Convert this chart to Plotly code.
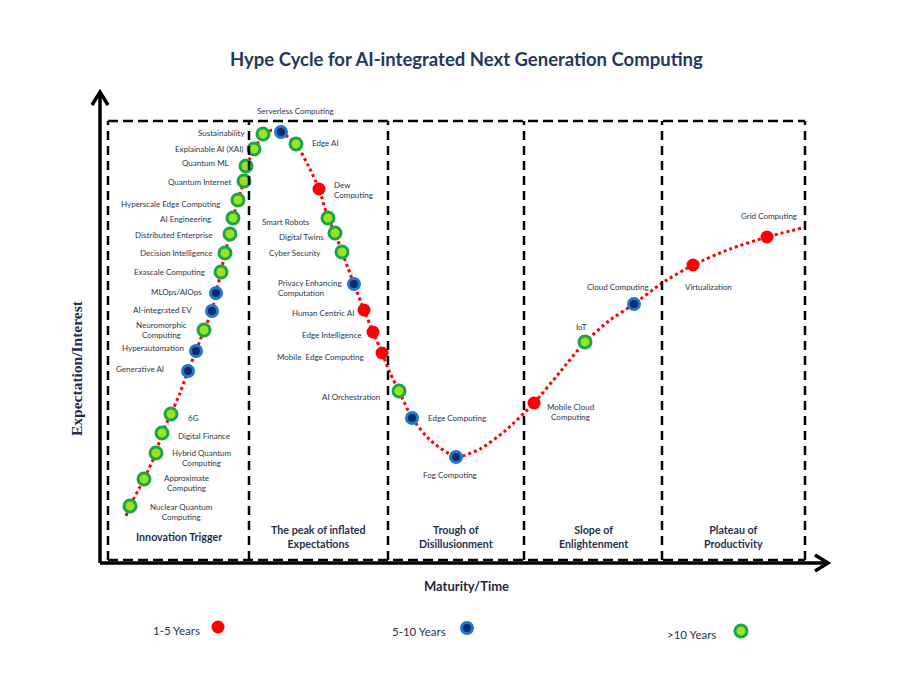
import plotly.graph_objects as go

# ---------------- data ----------------
# maturity (x) and expectation (y) in chart units; horizon per item
names = [
    "Nuclear Quantum Computing", "Approximate Computing", "Hybrid Quantum Computing",
    "Digital Finance", "6G", "Generative AI", "Hyperautomation", "Neuromorphic Computing",
    "AI-integrated EV", "MLOps/AIOps", "Exascale Computing", "Decision Intelligence",
    "Distributed Enterprise", "AI Engineering", "Hyperscale Edge Computing",
    "Quantum Internet", "Quantum ML", "Explainable AI (XAI)", "Sustainability",
    "Serverless Computing", "Edge AI", "Dew Computing", "Smart Robots", "Digital Twins",
    "Cyber Security", "Privacy Enhancing Computation", "Human Centric AI",
    "Edge Intelligence", "Mobile  Edge Computing", "AI Orchestration", "Edge Computing",
    "Fog Computing", "Mobile Cloud Computing", "IoT", "Cloud Computing",
    "Virtualization", "Grid Computing",
]
maturity = [30, 44, 56, 62, 71, 88, 96, 104, 112, 116, 121, 125, 130, 133, 138, 144,
            146, 154, 163, 181, 196, 219, 228, 235, 242, 254, 264, 273, 282, 299, 312,
            356, 434, 485, 534, 593, 667]
expectation = [57, 84, 110, 130, 149, 192, 212, 233, 252, 270, 291, 310, 329, 345, 363,
               382, 397, 414, 429, 431, 419, 374, 345, 330, 311, 279, 253, 231, 210, 172,
               145, 106, 160, 221, 259, 298, 326]
horizon = [">10", ">10", ">10", ">10", ">10", "5-10", "5-10", ">10", "5-10", "5-10",
           ">10", ">10", ">10", ">10", ">10", ">10", ">10", ">10", ">10", "5-10", ">10",
           "1-5", ">10", ">10", ">10", "5-10", "1-5", "1-5", "1-5", ">10", "5-10",
           "5-10", "1-5", ">10", "5-10", "1-5", "1-5"]

curve_maturity = [26, 30, 44, 56, 62, 71, 80, 88, 96, 104, 112, 116, 121, 125, 130, 133,
                  138, 144, 147, 154, 163, 172, 181, 196, 208, 219, 228, 235, 242, 248,
                  254, 264, 273, 282, 290, 299, 312, 330, 356, 380, 405, 434, 460, 485,
                  510, 534, 562, 593, 630, 667, 702]
curve_expectation = [47, 57, 84, 110, 130, 149, 170, 192, 212, 233, 252, 270, 291, 310,
                     329, 345, 363, 382, 397, 414, 427, 433, 431, 419, 398, 374, 345, 330,
                     311, 295, 279, 253, 231, 210, 190, 172, 145, 123, 106, 114, 132, 160,
                     191, 221, 243, 259, 280, 298, 314, 326, 335]

phases = ["Innovation Trigger", "The peak of inflated<br>Expectations",
          "Trough of<br>Disillusionment", "Slope of<br>Enlightenment",
          "Plateau of<br>Productivity"]
phase_bounds = [8, 149, 288, 424, 562, 705]
legend_labels = ["1-5 Years", "5-10 Years", ">10 Years"]

# ---------------- styles / label placement ----------------
STYLE = {
    "1-5": dict(size=13, color="#ff0000", line=dict(width=0, color="#ff0000")),
    "5-10": dict(size=11, color="#0a2a6b", line=dict(width=3, color="#1f78d1")),
    ">10": dict(size=12, color="#9be31e", line=dict(width=3, color="#19a54b")),
}
# (dx, dy, xanchor, align) offsets from marker centre, in chart units
LABEL_POS = [
    (51, -6, "center", "center"), (42, -4, "center", "center"), (45, -5, "center", "center"),
    (14, -3, "left", "left"), (15, -4, "left", "left"), (-22, 2, "right", "right"),
    (-10, 3, "right", "right"), (-43, 0, "center", "center"), (-18, 1, "right", "right"),
    (-12, 1, "right", "right"), (-14, 0, "right", "right"), (-10, 0, "right", "right"),
    (-15, -1, "right", "right"), (-20, -1, "right", "right"), (-16, -4, "right", "right"),
    (-11, -1, "right", "right"), (-15, 3, "right", "right"), (-8, 0, "right", "right"),
    (-16, 1, "right", "right"), (14, 21, "center", "center"), (14, 1, "left", "left"),
    (13, -1, "left", "left"), (-16, -4, "right", "right"), (-9, -4, "right", "right"),
    (-19, -1, "right", "right"), (-78, -4, "left", "left"), (-8, -3, "right", "right"),
    (-10, -3, "right", "right"), (-16, -4, "right", "right"), (-17, -6, "right", "right"),
    (14, 0, "left", "left"), (-6, -18, "center", "center"), (36, -9, "center", "center"),
    (-4, 15, "center", "center"), (-16, 17, "center", "center"), (-10, -22, "left", "left"),
    (2, 21, "center", "center"),
]
LABEL_TEXT = {
    "Nuclear Quantum Computing": "Nuclear Quantum<br>Computing",
    "Approximate Computing": "Approximate<br>Computing",
    "Hybrid Quantum Computing": "Hybrid Quantum<br>Computing",
    "Neuromorphic Computing": "Neuromorphic<br>Computing",
    "Dew Computing": "Dew<br>Computing",
    "Privacy Enhancing Computation": "Privacy Enhancing<br>Computation",
    "Mobile Cloud Computing": "Mobile Cloud<br>Computing",
}
TXT = "#2a3550"
NAVY = "#1f3050"
FONT = "Lato"

fig = go.Figure()

# hype curve
fig.add_trace(go.Scatter(
    x=curve_maturity, y=curve_expectation, mode="lines",
    line=dict(color="#ff0000", width=3, dash="3px,3px", shape="spline", smoothing=0.6),
    hoverinfo="skip", showlegend=False))

# technology markers grouped by horizon
for key in ["1-5", "5-10", ">10"]:
    idx = [i for i, h in enumerate(horizon) if h == key]
    fig.add_trace(go.Scatter(
        x=[maturity[i] for i in idx], y=[expectation[i] for i in idx],
        mode="markers", marker=STYLE[key], text=[names[i] for i in idx],
        hoverinfo="text", showlegend=False))

# labels
for i, n in enumerate(names):
    dx, dy, xa, al = LABEL_POS[i]
    fig.add_annotation(x=maturity[i] + dx, y=expectation[i] + dy, xref="x", yref="y",
                       text=LABEL_TEXT.get(n, n), showarrow=False, xanchor=xa, align=al,
                       yanchor="middle", font=dict(family=FONT, size=8, color=TXT))

# phase boxes (dashed)
DASH = dict(color="black", width=2.5, dash="10px,5px")
fig.add_shape(type="line", x0=phase_bounds[0], x1=phase_bounds[-1], y0=442, y1=442,
              xref="x", yref="y", line=DASH)
fig.add_shape(type="line", x0=phase_bounds[0], x1=phase_bounds[-1], y0=3, y1=3,
              xref="x", yref="y", line=DASH)
for b in phase_bounds:
    fig.add_shape(type="line", x0=b, x1=b, y0=3, y1=442, xref="x", yref="y",
                  line=dict(color="black", width=2.5, dash="9px,6px"))
for i, p in enumerate(phases):
    cx = (phase_bounds[i] + phase_bounds[i + 1]) / 2
    fig.add_annotation(x=cx, y=27, xref="x", yref="y", text="<b>" + p + "</b>",
                       showarrow=False, font=dict(family=FONT, size=10.7, color=NAVY),
                       yanchor="middle")

# axes arrows
AX = dict(color="black", width=3.5)
fig.add_shape(type="line", x0=0, x1=0, y0=0, y1=470, xref="x", yref="y", line=AX)
fig.add_shape(type="line", x0=0, x1=728, y0=0, y1=0, xref="x", yref="y", line=AX)
fig.add_shape(type="path", path="M -8,458 L 0,471 L 8,458", xref="x", yref="y", line=AX)
fig.add_shape(type="path", path="M 715,8 L 728,0 L 715,-8", xref="x", yref="y", line=AX)

# axis titles
fig.add_annotation(x=-24, y=195, xref="x", yref="y", text="<b>Expectation/Interest</b>",
                   textangle=-90, showarrow=False,
                   font=dict(family="Liberation Serif", size=15.5, color="#1f2d50"))
fig.add_annotation(x=366, y=-23, xref="x", yref="y", text="<b>Maturity/Time</b>",
                   showarrow=False, font=dict(family=FONT, size=13, color="#1f2a40"))

# title
fig.add_annotation(x=366, y=504, xref="x", yref="y",
                   text="<b>Hype Cycle for AI-integrated Next Generation Computing</b>",
                   showarrow=False, font=dict(family=FONT, size=18.5, color="#1f3864"))

# legend (manual)
leg_x = [118, 367, 641]
leg_y = [-64, -65, -68]
leg_gap = [16, 19, 23]
for i, lab in enumerate(legend_labels):
    key = ["1-5", "5-10", ">10"][i]
    fig.add_annotation(x=leg_x[i] - leg_gap[i], y=leg_y[i] - 3, xref="x", yref="y",
                       text=lab, showarrow=False, xanchor="right",
                       font=dict(family=FONT, size=11.5, color=TXT))
    fig.add_trace(go.Scatter(x=[leg_x[i]], y=[leg_y[i]], mode="markers",
                             marker=STYLE[key], hoverinfo="skip", showlegend=False))

# page body has an 8px margin: size the figure so it sits exactly in the window
fig.update_xaxes(range=[-92, 805], visible=False, fixedrange=True)
fig.update_yaxes(range=[-114, 555], visible=False, fixedrange=True)
fig.update_layout(width=897, height=669, margin=dict(l=0, r=0, t=0, b=0),
                  plot_bgcolor="white", paper_bgcolor="white", showlegend=False)

fig.write_html("out.html")
